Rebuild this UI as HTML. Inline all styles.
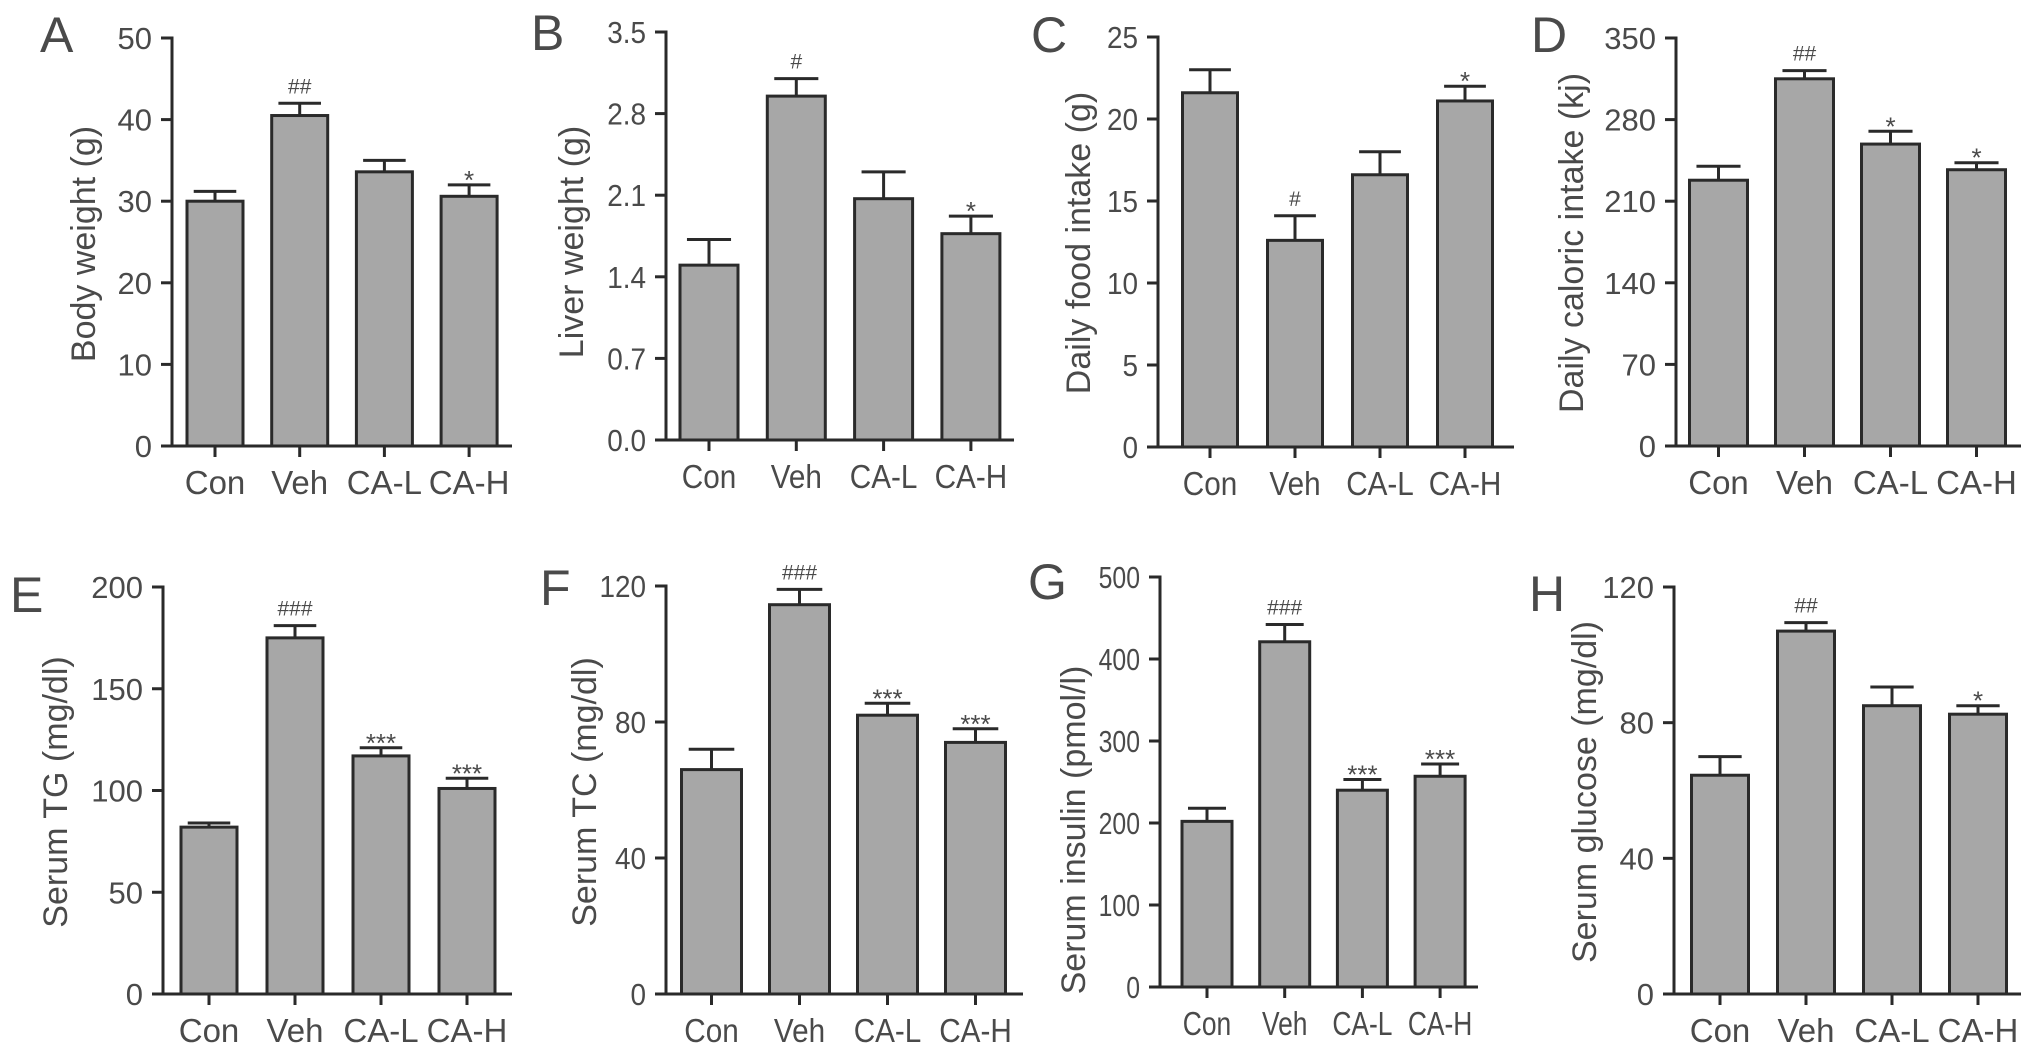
<!DOCTYPE html>
<html><head><meta charset="utf-8"><style>
html,body{margin:0;padding:0;background:#fff;}
svg{display:block;}
text{font-family:"Liberation Sans",Arial,sans-serif;fill:#4a4a4a;}
</style></head>
<body>
<svg id="fig" width="2032" height="1054" viewBox="0 0 2032 1054" xmlns="http://www.w3.org/2000/svg"></svg>
<script>
const categories = ["Con","Veh","CA-L","CA-H"];
const valsA = [30.0, 40.5, 33.6, 30.6];  const errA = [1.2, 1.5, 1.4, 1.4];
const valsB = [1.50, 2.95, 2.07, 1.77];  const errB = [0.22, 0.15, 0.23, 0.15];
const valsC = [21.6, 12.6, 16.6, 21.1];  const errC = [1.4, 1.5, 1.4, 0.9];
const valsD = [228, 315, 259, 237];      const errD = [12, 7, 11, 6];
const valsE = [82, 175, 117, 101];       const errE = [2, 6, 4, 5];
const valsF = [66, 114.5, 82, 74];       const errF = [6, 4.5, 3.5, 4];
const valsG = [202, 421, 240, 257];      const errG = [16, 21, 13, 15];
const valsH = [64.5, 107, 85, 82.5];     const errH = [5.5, 2.5, 5.5, 2.5];
const sigA = ["", "##", "", "*"];
const sigB = ["", "#", "", "*"];
const sigC = ["", "#", "", "*"];
const sigD = ["", "##", "*", "*"];
const sigE = ["", "###", "***", "***"];
const sigF = ["", "###", "***", "***"];
const sigG = ["", "###", "***", "***"];
const sigH = ["", "##", "", "*"];
const ticksA = [0,10,20,30,40,50];
const ticksB = [0,0.7,1.4,2.1,2.8,3.5];
const ticksC = [0,5,10,15,20,25];
const ticksD = [0,70,140,210,280,350];
const ticksE = [0,50,100,150,200];
const ticksF = [0,40,80,120];
const ticksG = [0,100,200,300,400,500];
const ticksH = [0,40,80,120];

const NS = "http://www.w3.org/2000/svg";
const svg = document.getElementById("fig");
function el(tag, attrs, parent, txt){
  const e = document.createElementNS(NS, tag);
  for (const k in attrs) e.setAttribute(k, attrs[k]);
  if (txt !== undefined) e.textContent = txt;
  (parent || svg).appendChild(e);
  return e;
}
const panels = [
 {id:"a", letter:"A", lx:40, ly:52, ax:172, top:38, zero:446, right:512, c0:215, step:84.7, w:56, max:50, dec:0, vals:valsA, errs:errA, sig:sigA, ticks:ticksA, title:"Body weight (g)", tx:83, ty:244, sx:1},
 {id:"b", letter:"B", lx:531, ly:50, ax:666, top:32, zero:440, right:1014, c0:709, step:87.3, w:58, max:3.5, dec:1, vals:valsB, errs:errB, sig:sigB, ticks:ticksB, title:"Liver weight (g)", tx:571, ty:242, sx:0.9},
 {id:"c", letter:"C", lx:1031, ly:52, ax:1158, top:37, zero:447, right:1514, c0:1210, step:85, w:55, max:25, dec:0, vals:valsC, errs:errC, sig:sigC, ticks:ticksC, title:"Daily food intake (g)", tx:1078, ty:243, sx:0.9},
 {id:"d", letter:"D", lx:1531, ly:52, ax:1676, top:38, zero:446, right:2021, c0:1718.5, step:86, w:58, max:350, dec:0, vals:valsD, errs:errD, sig:sigD, ticks:ticksD, title:"Daily caloric intake (kj)", tx:1571, ty:243, sx:1},
 {id:"e", letter:"E", lx:10, ly:612, ax:163, top:587, zero:994, right:512, c0:209, step:86, w:56, max:200, dec:0, vals:valsE, errs:errE, sig:sigE, ticks:ticksE, title:"Serum TG (mg/dl)", tx:55, ty:792, sx:1},
 {id:"f", letter:"F", lx:540, ly:605, ax:666, top:586, zero:994, right:1023, c0:711.5, step:88, w:60, max:120, dec:0, vals:valsF, errs:errF, sig:sigF, ticks:ticksF, title:"Serum TC (mg/dl)", tx:584, ty:792, sx:0.9},
 {id:"g", letter:"G", lx:1028, ly:599, ax:1160, top:577, zero:987, right:1478, c0:1207, step:77.7, w:50, max:500, dec:0, vals:valsG, errs:errG, sig:sigG, ticks:ticksG, title:"Serum insulin (pmol/l)", tx:1073, ty:830, sx:0.8},
 {id:"h", letter:"H", lx:1529, ly:611, ax:1674, top:587, zero:994, right:2021, c0:1720, step:86, w:57, max:120, dec:0, vals:valsH, errs:errH, sig:sigH, ticks:ticksH, title:"Serum glucose (mg/dl)", tx:1584, ty:792, sx:1}
];
panels.forEach(p => {
  const g = el("g", {});
  
  
  const y = v => p.zero - (v / p.max) * (p.zero - p.top);
  const cx = i => p.c0 + i * p.step;
  const L = el("text", {x:p.lx, y:p.ly, "font-size":50, fill:"#222"}, g, p.letter);
  
  
  p.vals.forEach((v, i) => {
    const top = y(v), et = y(v + p.errs[i]);
    const eb = el("line", {x1:cx(i), x2:cx(i), y1:top, y2:et, stroke:"#2a2a2a", "stroke-width":3}, g);
    
    
    const cap = el("line", {x1:cx(i)-p.w*0.38, x2:cx(i)+p.w*0.38, y1:et, y2:et, stroke:"#2a2a2a", "stroke-width":3}, g);
    
    
    const r = el("rect", {x:cx(i)-p.w/2, y:top, width:p.w, height:p.zero-top, fill:"#a7a7a7", stroke:"#2a2a2a", "stroke-width":3}, g);
    
    
    if (p.sig[i]) {
      const isStar = p.sig[i].indexOf("*") >= 0;
      const s = el("text", {x:cx(i), y:et - (isStar ? -4 : 10), "text-anchor":"middle", "font-size": isStar ? 26 : 21, fill:"#555"}, g, p.sig[i]);
      
      
    }
    const xt = el("line", {x1:cx(i), x2:cx(i), y1:p.zero, y2:p.zero+11, stroke:"#2a2a2a", "stroke-width":3}, g);
    
    
    const xl = el("text", {x:0, y:0, "text-anchor":"middle", "font-size":33, transform:"translate(" + cx(i) + " " + (p.zero+48) + ") scale(" + p.sx + " 1)"}, g, categories[i]);
    
    
  });
  const ya = el("line", {x1:p.ax, x2:p.ax, y1:p.top-1.5, y2:p.zero+1.5, stroke:"#2a2a2a", "stroke-width":3}, g);
  
  
  const xa = el("line", {x1:p.ax-11, x2:p.right, y1:p.zero, y2:p.zero, stroke:"#2a2a2a", "stroke-width":3}, g);
  
  
  p.ticks.forEach(t => {
    const tl = el("line", {x1:p.ax-11, x2:p.ax, y1:y(t), y2:y(t), stroke:"#2a2a2a", "stroke-width":3}, g);
    
    
    const tt = el("text", {x:0, y:0, "text-anchor":"end", "font-size":31, transform:"translate(" + (p.ax-20) + " " + (y(t)+11) + ") scale(" + p.sx + " 1)"}, g, t.toFixed(p.dec));
    
    
  });
  const ti = el("text", {x:p.tx, y:p.ty, "text-anchor":"middle", "font-size":34, transform:"rotate(-90 " + p.tx + " " + p.ty + ")", dy:"0.35em"}, g, p.title);
  
  
});
</script>
</body></html>
